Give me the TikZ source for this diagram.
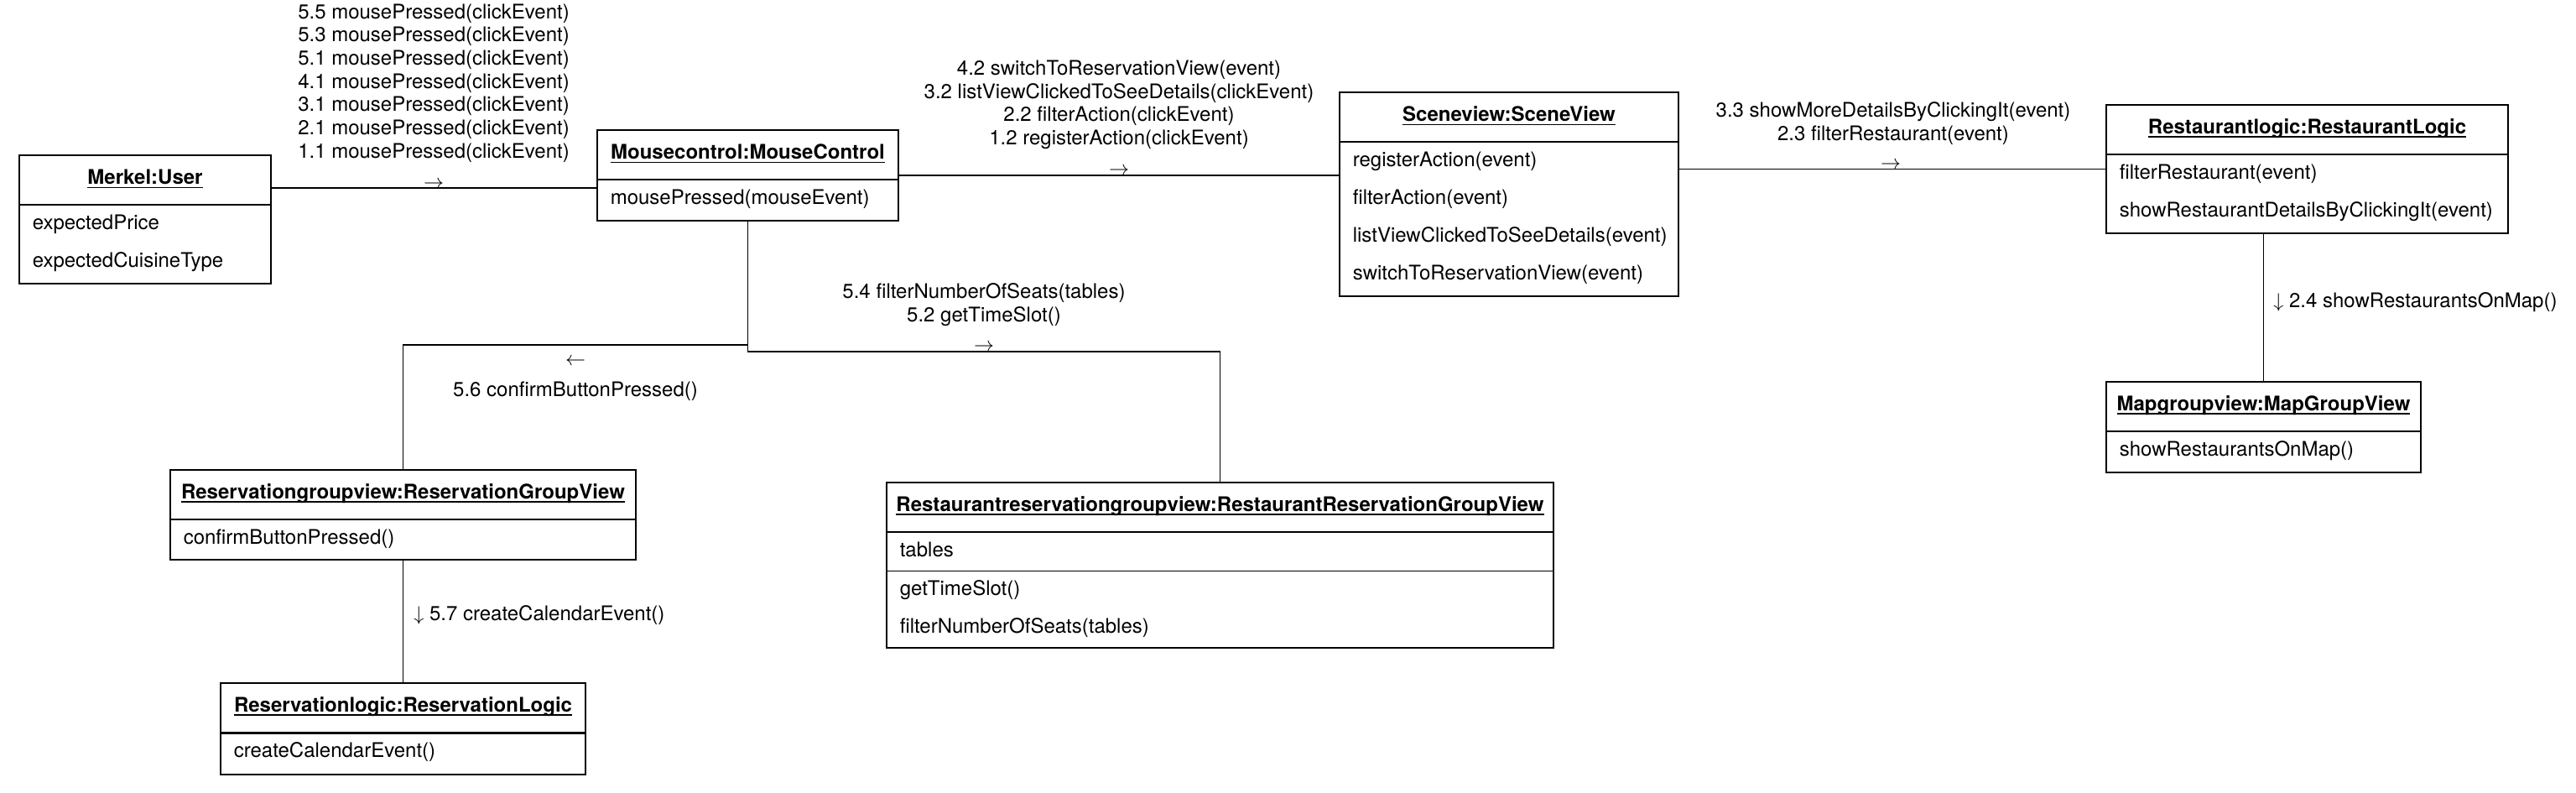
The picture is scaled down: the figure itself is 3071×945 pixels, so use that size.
\documentclass[tikz,border=0pt]{standalone}
\usepackage{fontspec}
\setmainfont{TeX Gyre Heros}
\usetikzlibrary{calc}

\newcommand{\diagfont}{\fontsize{12}{13.85}\selectfont}
\newcommand{\objname}[1]{\setbox0=\hbox{#1}\rlap{\rule[-2.2pt]{\wd0}{0.6pt}}\box0}

\tikzset{
  classbox/.style={draw, line width=0.6pt, inner sep=0pt},
  classtitle/.style={font=\diagfont\bfseries, inner sep=0pt},
  member/.style={anchor=west, inner sep=0pt, text height=1.6ex, text depth=0.4ex},
  divider/.style={line width=1.1pt},
  link/.style={line width=0.6pt},
  msg/.style={align=center, inner sep=0pt},
  dirmark/.style={inner sep=0pt}
}

\begin{document}
\begin{tikzpicture}[x=0.5pt, y=-0.5pt, every node/.style={font=\diagfont}]
  \useasboundingbox (0,0) rectangle (3071,945);

  % objects
  \node[classbox, minimum width=150pt, minimum height=76.5pt] (user) at (173,261.5) {};
  \node[classbox, minimum width=179.5pt, minimum height=54pt] (mouse) at (891.5,209) {};
  \node[classbox, minimum width=202pt, minimum height=121.5pt] (scene) at (1799,231.5) {};
  \node[classbox, minimum width=239.5pt, minimum height=76.5pt] (restlogic) at (2750.5,201.5) {};
  \node[classbox, minimum width=187.5pt, minimum height=54pt] (map) at (2698.5,509) {};
  \node[classbox, minimum width=277.5pt, minimum height=53.5pt] (resgroup) at (480.5,613.5) {};
  \node[classbox, minimum width=217.5pt, minimum height=54.5pt] (reslogic) at (480.5,868.5) {};
  \node[classbox, minimum width=397.5pt, minimum height=98.5pt] (restres) at (1454.5,673.5) {};

  % titles and dividers
  \foreach \obj/\title in {user/Merkel:User, mouse/Mousecontrol:MouseControl, scene/Sceneview:SceneView,
      restlogic/Restaurantlogic:RestaurantLogic, map/Mapgroupview:MapGroupView,
      resgroup/Reservationgroupview:ReservationGroupView, reslogic/Reservationlogic:ReservationLogic,
      restres/Restaurantreservationgroupview:RestaurantReservationGroupView} {
    \node[classtitle] at ($(\obj.north)+(0,28.5)$) {\objname{\title}};
    \draw[divider] ($(\obj.north west)+(0,60)$) -- ($(\obj.north east)+(0,60)$);
  }
  \draw[link] ($(restres.north west)+(0,106)$) -- ($(restres.north east)+(0,106)$);

  % members
  \foreach \m [count=\i] in {expectedPrice, expectedCuisineType}
    \node[member] at ($(user.north west)+(16,{37.5+45*\i})$) {\m};
  \node[member] at ($(mouse.north west)+(16,82.5)$) {mousePressed(mouseEvent)};
  \foreach \m [count=\i] in {registerAction(event), filterAction(event),
      listViewClickedToSeeDetails(event), switchToReservationView(event)}
    \node[member] at ($(scene.north west)+(16,{37.5+45*\i})$) {\m};
  \foreach \m [count=\i] in {filterRestaurant(event), showRestaurantDetailsByClickingIt(event)}
    \node[member] at ($(restlogic.north west)+(16,{37.5+45*\i})$) {\m};
  \node[member] at ($(map.north west)+(16,82.5)$) {showRestaurantsOnMap()};
  \node[member] at ($(resgroup.north west)+(16,82.5)$) {confirmButtonPressed()};
  \node[member] at ($(reslogic.north west)+(16,82.5)$) {createCalendarEvent()};
  \node[member] at ($(restres.north west)+(16,82.5)$) {tables};
  \node[member] at ($(restres.north west)+(16,129)$) {getTimeSlot()};
  \node[member] at ($(restres.north west)+(16,174)$) {filterNumberOfSeats(tables)};

  % links
  \coordinate (c1) at (517,224);
  \coordinate (lbend) at (0,411);
  \coordinate (rbend) at (0,419);
  \draw[link] (user.east |- c1) -- (mouse.west |- c1);
  \draw[link] (mouse.east) -- (scene.west |- mouse.east);
  \draw[link] (scene.east |- restlogic.west) -- (restlogic.west);
  \draw[link] (restlogic.south -| map.north) -- (map.north);
  \draw[link] (mouse.south) |- (resgroup.north |- lbend) -- (resgroup.north);
  \draw[link] (mouse.south) |- (restres.north |- rbend) -- (restres.north);
  \draw[link] (resgroup.south) -- (reslogic.north);

  % messages
  \node[msg] (m1) at (517,99) {5.5 mousePressed(clickEvent)\\ 5.3 mousePressed(clickEvent)\\
    5.1 mousePressed(clickEvent)\\ 4.1 mousePressed(clickEvent)\\ 3.1 mousePressed(clickEvent)\\
    2.1 mousePressed(clickEvent)\\ 1.1 mousePressed(clickEvent)};
  \node[dirmark] (d1) at (517,220) {$\rightarrow$};
  \node[msg] (m2) at (1334,125) {4.2 switchToReservationView(event)\\ 3.2 listViewClickedToSeeDetails(clickEvent)\\
    2.2 filterAction(clickEvent)\\ 1.2 registerAction(clickEvent)};
  \node[dirmark] (d2) at (1334,204) {$\rightarrow$};
  \node[msg] (m3) at (2257,147) {3.3 showMoreDetailsByClickingIt(event)\\ 2.3 filterRestaurant(event)};
  \node[dirmark] (d3) at (2254,197) {$\rightarrow$};
  \node[msg] (m4) at (686,466) {5.6 confirmButtonPressed()};
  \node[dirmark] (d4) at (686,431) {$\leftarrow$};
  \node[msg] (m5) at (1173,363) {5.4 filterNumberOfSeats(tables)\\ 5.2 getTimeSlot()};
  \node[dirmark] (d5) at (1173,414) {$\rightarrow$};
  \node[msg, anchor=west] (m6) at (493,733) {$\downarrow$ 5.7 createCalendarEvent()};
  \node[msg, anchor=west] (m7) at (2710,360) {$\downarrow$ 2.4 showRestaurantsOnMap()};
\end{tikzpicture}
\end{document}
